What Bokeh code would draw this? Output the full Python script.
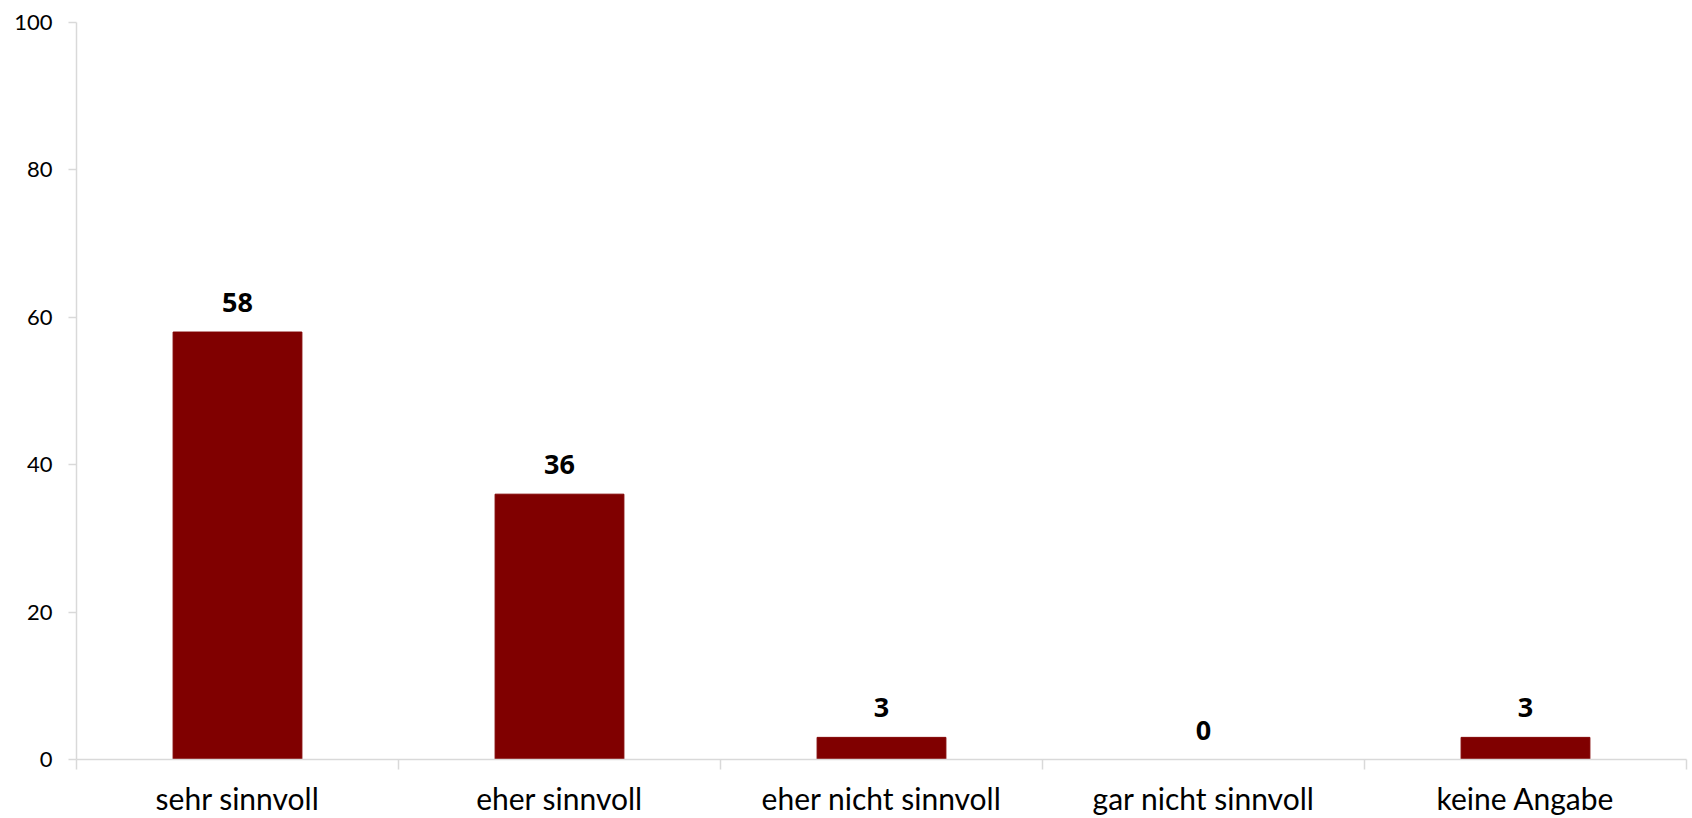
from bokeh.plotting import figure
from bokeh.models import ColumnDataSource, LabelSet, FixedTicker, Range1d
from bokeh.core.properties import value
from bokeh.embed import file_html
from bokeh.resources import INLINE

categories = ["sehr sinnvoll", "eher sinnvoll", "eher nicht sinnvoll", "gar nicht sinnvoll", "keine Angabe"]
values = [58, 36, 3, 0, 3]
y_ticks = [0, 20, 40, 60, 80, 100]

centers = [i + 0.5 for i in range(len(categories))]
bounds = list(range(len(categories) + 1))

src = ColumnDataSource(dict(x=centers, top=values, label=[str(v) for v in values]))

p = figure(width=1692, height=818, output_backend="svg", toolbar_location=None,
           x_range=Range1d(0, len(categories)), y_range=Range1d(0, 100),
           min_border_left=76, min_border_right=6, min_border_top=22, min_border_bottom=56)
p.outline_line_color = None
p.background_fill_color = "white"
p.border_fill_color = "white"
p.xgrid.visible = False
p.ygrid.visible = False

p.vbar(x="x", top="top", width=0.4, bottom=0, source=src, fill_color="#800000", line_color="#800000")

labels = LabelSet(x="x", y="top", text="label", source=src, y_offset=20,
                  text_align="center", text_baseline="alphabetic",
                  text_font=value("Open Sans"), text_font_style="bold",
                  text_font_size="27px", text_color="#000000")
p.add_layout(labels)

axis_color = "#D9D9D9"

xa = p.xaxis[0]
xa.ticker = FixedTicker(ticks=centers, minor_ticks=bounds)
xa.major_label_overrides = {c: name for c, name in zip(centers, categories)}
xa.major_tick_line_color = None
xa.major_tick_out = 10
xa.minor_tick_line_color = axis_color
xa.minor_tick_line_width = 1.5
xa.minor_tick_out = 10
xa.minor_tick_in = 0
xa.axis_line_color = axis_color
xa.axis_line_width = 1.5
xa.major_label_text_font = "Lato"
xa.major_label_text_font_size = "30px"
xa.major_label_text_color = "#000000"
xa.major_label_standoff = 10

ya = p.yaxis[0]
ya.ticker = FixedTicker(ticks=y_ticks)
ya.minor_tick_line_color = None
ya.major_tick_out = 8
ya.major_tick_in = 0
ya.major_tick_line_color = axis_color
ya.major_tick_line_width = 1.5
ya.axis_line_color = axis_color
ya.axis_line_width = 1.5
ya.major_label_text_font = "Lato"
ya.major_label_text_font_size = "22px"
ya.major_label_text_color = "#000000"
ya.major_label_standoff = 16

open("out.html", "w").write(file_html(p, INLINE))
